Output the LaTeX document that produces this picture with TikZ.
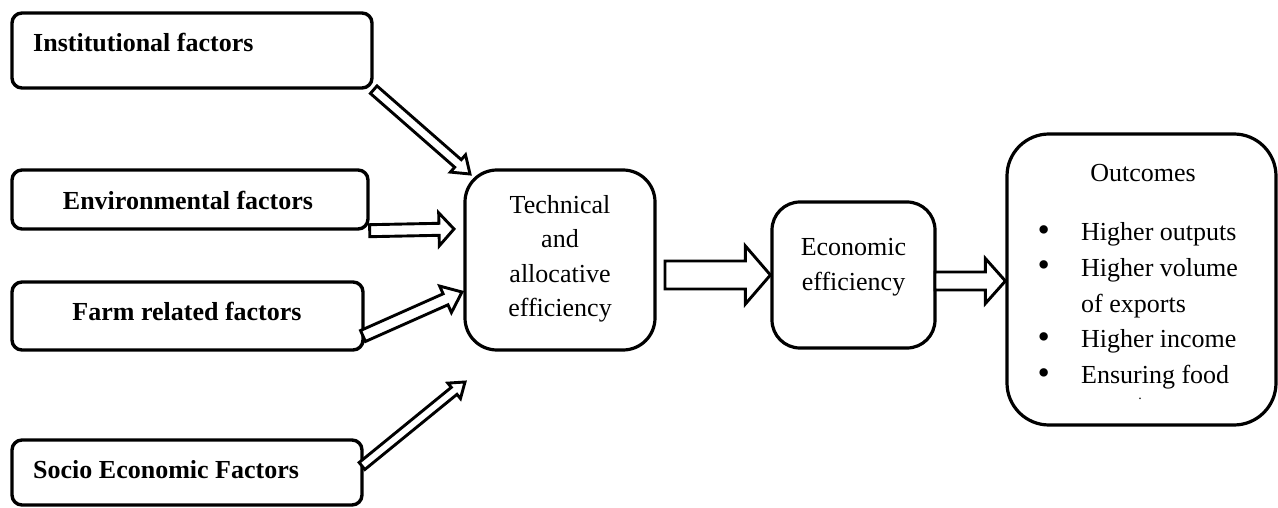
\documentclass[tikz,border=0pt]{standalone}
\usepackage{fontspec}
\setmainfont{Liberation Serif}
\usetikzlibrary{calc}
\tikzset{
  factorbox/.style={draw, line width=3.4pt, rounded corners=10pt, inner sep=0pt},
  stagebox/.style={draw, line width=3.2pt, inner sep=0pt},
  factortext/.style={font=\fontsize{26}{30}\selectfont\bfseries, inner sep=0pt},
  stagetext/.style={font=\fontsize{26}{34.5}\selectfont, align=center, inner sep=0pt},
  arrowbody/.style={draw, fill=white, line width=2.9pt, line join=miter}
}
\newcommand{\blockArrow}[5]{
  \coordinate (ba-h) at ($(#2)!#5!(#1)$);
  \draw[arrowbody] ($(#1)!#3!90:(#2)$) -- ($(ba-h)!#3!90:(#2)$) -- ($(ba-h)!#4!90:(#2)$) -- (#2)
    -- ($(ba-h)!#4!-90:(#2)$) -- ($(ba-h)!#3!-90:(#2)$) -- ($(#1)!#3!-90:(#2)$) -- cycle
}
\newcommand{\outcBullet}{\makebox[43.5pt][l]{\raisebox{-0.5pt}{\scalebox{1.35}{\textbullet}}}}

\begin{document}
\begin{tikzpicture}[x=1pt,y=-1pt]
  \useasboundingbox (0,0) rectangle (1278,508);

  \node[factorbox, minimum width=360pt, minimum height=75pt] (inst) at (192,50.5) {};
  \node[factorbox, minimum width=356pt, minimum height=59pt] (env) at (190,199.5) {};
  \node[factorbox, minimum width=351pt, minimum height=68pt] (farm) at (187.5,316) {};
  \node[factorbox, minimum width=350pt, minimum height=65pt] (socio) at (187,472.5) {};

  \node[factortext, anchor=west] (instLabel) at (33,43) {Institutional factors};
  \node[factortext] (envLabel) at (188,200) {Environmental factors};
  \node[factortext] (farmLabel) at (187,311) {Farm related factors};
  \node[factortext, anchor=west] (socioLabel) at (33,470) {Socio Economic Factors};

  \node[stagebox, rounded corners=32pt, minimum width=190pt, minimum height=180pt] (tech) at (560,260) {};
  \node[stagetext] (techLabel) at (560,259) {Technical\\and\\allocative\\efficiency};

  \node[stagebox, rounded corners=28pt, minimum width=163pt, minimum height=146pt] (econ) at (853.5,275) {};
  \node[stagetext] (econLabel) at (853.5,267) {Economic\\efficiency};

  \node[stagebox, rounded corners=42pt, minimum width=269pt, minimum height=291pt] (outc) at (1141.5,279.5) {};
  \node[stagetext] (outcTitle) at (1143,173) {Outcomes};
  \node[anchor=west, inner sep=0pt, font=\fontsize{26}{35.7}\selectfont] (outcList) at (1037.5,305) {%
    \begin{tabular}{@{}l@{}l@{}}
      \outcBullet & Higher outputs\\
      \outcBullet & Higher volume\\
      & of exports\\
      \outcBullet & Higher income\\
      \outcBullet & Ensuring food
    \end{tabular}};
  \node[inner sep=0pt, font=\fontsize{14}{14}\selectfont] (outcDot) at (1140,399) {.};

  \coordinate (instTip) at (470,174);
  \coordinate (envTip) at (454,229);
  \coordinate (farmTail) at (363,336);
  \coordinate (farmTip) at (462,292);
  \coordinate (socioTail) at (362,466);
  \coordinate (socioTip) at (465,382);
  \coordinate (techOut) at (665,275);
  \coordinate (econOut) at (935,281);

  \blockArrow{inst.south east}{instTip}{5pt}{11.5pt}{16pt};
  \blockArrow{env.south east}{envTip}{6pt}{16.5pt}{15pt};
  \blockArrow{farmTail}{farmTip}{6pt}{14.5pt}{18pt};
  \blockArrow{socioTail}{socioTip}{4.5pt}{10pt}{14pt};
  \blockArrow{techOut}{econ.west}{14pt}{29pt}{25pt};
  \blockArrow{econOut}{outc.west |- econOut}{9pt}{22.5pt}{20pt};
\end{tikzpicture}
\end{document}
